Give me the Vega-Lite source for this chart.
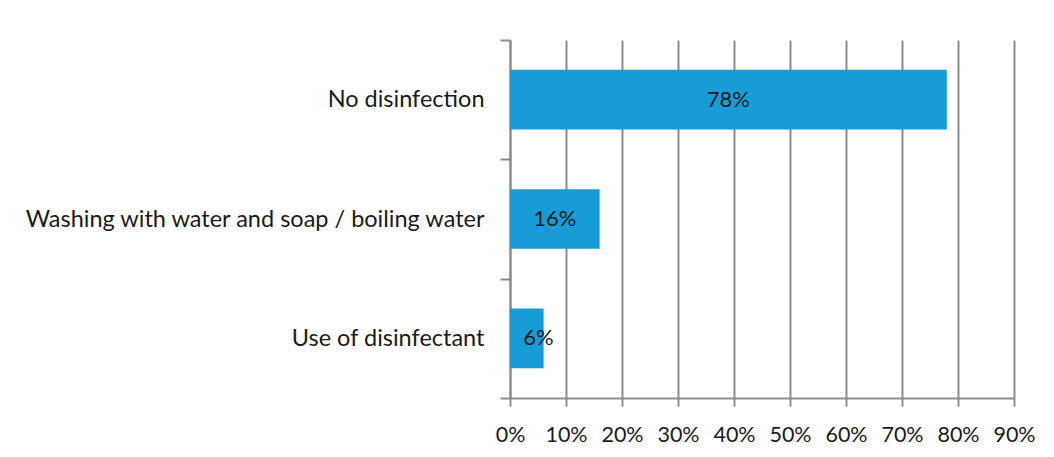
{
  "$schema": "https://vega.github.io/schema/vega-lite/v6.json",
  "width": 504,
  "height": 358,
  "autosize": {"type": "none"},
  "padding": {"left": 510, "top": 40, "right": 40, "bottom": 59},
  "background": "white",
  "config": {
    "view": {"stroke": null},
    "font": "Lato",
    "axis": {
      "labelFont": "Lato",
      "labelColor": "#1a1a1a",
      "domainColor": "#8c8c8c",
      "domainWidth": 2,
      "tickColor": "#8c8c8c",
      "tickWidth": 2,
      "gridColor": "#8c8c8c",
      "gridWidth": 2,
      "gridOpacity": 1
    }
  },
  "data": {
    "values": [
      {"method": "No disinfection", "share": 0.78},
      {"method": "Washing with water and soap / boiling water", "share": 0.16},
      {"method": "Use of disinfectant", "share": 0.06}
    ]
  },
  "encoding": {
    "y": {
      "field": "method",
      "type": "nominal",
      "sort": null,
      "scale": {"paddingInner": 0, "paddingOuter": 0},
      "axis": {
        "title": null,
        "tickBand": "extent",
        "tickSize": 10,
        "labelPadding": 16,
        "labelFontSize": 23.5,
        "labelLimit": 600,
        "grid": false
      }
    }
  },
  "layer": [
    {
      "mark": {"type": "bar", "color": "#179cd8", "height": {"band": 0.5}},
      "encoding": {
        "x": {
          "field": "share",
          "type": "quantitative",
          "scale": {"domain": [0, 0.9], "nice": false},
          "axis": {
            "title": null,
            "values": [0, 0.1, 0.2, 0.3, 0.4, 0.5, 0.6, 0.7, 0.8, 0.9],
            "format": ".0%",
            "grid": true,
            "tickSize": 8,
            "labelPadding": 18,
            "labelFontSize": 21.5,
            "labelOverlap": false,
            "labelFlush": false
          }
        }
      }
    },
    {
      "transform": [
        {"calculate": "max(datum.share / 2, 0.051)", "as": "labelX"}
      ],
      "mark": {"type": "text", "fontSize": 22, "color": "#1a1a1a", "align": "center", "baseline": "middle"},
      "encoding": {
        "x": {"field": "labelX", "type": "quantitative"},
        "text": {"field": "share", "type": "quantitative", "format": ".0%"}
      }
    }
  ]
}
